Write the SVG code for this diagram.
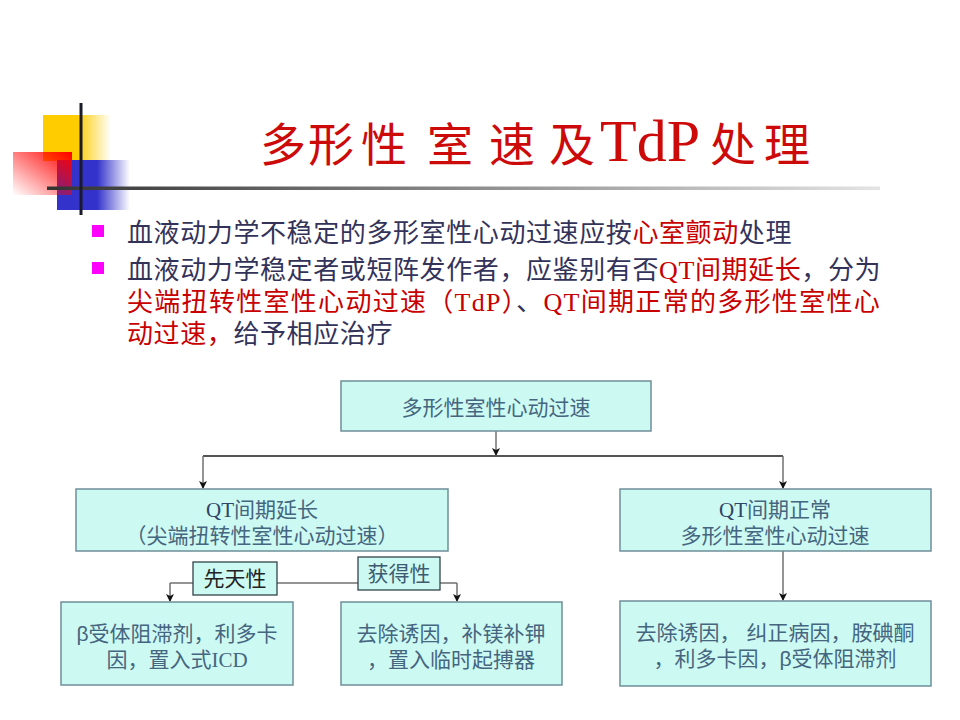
<svg xmlns="http://www.w3.org/2000/svg" width="960" height="720" viewBox="0 0 960 720">
<defs>
<style>
.cjk{font-family:"Liberation Sans","Noto Sans CJK SC",sans-serif;}
.ser{font-family:"Liberation Serif","Times New Roman",serif;}
.bt{font-size:26px;fill:#33335a;letter-spacing:0.6px;}
.ls3{letter-spacing:1.3px;}
.red{fill:#c80000;}
.dk{fill:#33335a;}
.box{fill:#ccfaf3;stroke:#6f8e98;stroke-width:1.5;}
.lbl{fill:#ccfaf3;stroke:#33444a;stroke-width:1.3;}
.bx{font-size:21px;fill:#46657f;text-anchor:middle;}
.qt{fill:#2f4466;}
.ln{stroke:#707070;stroke-width:1.5;fill:none;}
</style>
<marker id="ah" markerWidth="8" markerHeight="8" refX="7" refY="4" orient="auto" markerUnits="userSpaceOnUse">
<path d="M0,0 L8,4 L0,8 L2,4 Z" fill="#111"/>
</marker>
<linearGradient id="gy" x1="0" y1="0" x2="1" y2="0">
<stop offset="0" stop-color="#ffcc00"/><stop offset="0.5" stop-color="#ffcc00"/><stop offset="1" stop-color="#ffcc00" stop-opacity="0"/>
</linearGradient>
<linearGradient id="gb" x1="0" y1="0" x2="1" y2="0">
<stop offset="0" stop-color="#3333cc"/><stop offset="0.55" stop-color="#3333cc"/><stop offset="1" stop-color="#3333cc" stop-opacity="0"/>
</linearGradient>
<linearGradient id="gr" x1="1" y1="0" x2="0" y2="1">
<stop offset="0" stop-color="#ff0000"/><stop offset="1" stop-color="#ff0000" stop-opacity="0"/>
</linearGradient>
<linearGradient id="gl" x1="0" y1="0" x2="1" y2="0">
<stop offset="0" stop-color="#333"/><stop offset="0.2" stop-color="#555"/><stop offset="1" stop-color="#e4e4e4"/>
</linearGradient>
</defs>
<rect width="960" height="720" fill="#fff"/>

<g id="decor">
<rect x="43" y="115" width="68" height="46" fill="url(#gy)"/>
<rect x="57" y="160" width="73" height="50" fill="url(#gb)"/>
<rect x="13" y="152" width="59" height="43" fill="url(#gr)"/>
<rect x="47" y="186.5" width="833" height="3.5" fill="url(#gl)"/>
<rect x="79.5" y="103" width="3" height="112" fill="#1a1a2a"/>
</g>

<g id="title" fill="#cc0a0a">
<text class="cjk" font-size="46" y="161" text-anchor="middle"><tspan x="283">多</tspan><tspan x="331">形</tspan><tspan x="384">性</tspan><tspan x="450">室</tspan><tspan x="512">速</tspan><tspan x="572">及</tspan></text>
<text class="ser" font-size="60" x="600" y="161">TdP</text>
<text class="cjk" font-size="46" y="161" text-anchor="middle"><tspan x="733">处</tspan><tspan x="787">理</tspan></text>
</g>

<g id="bullets">
<rect x="92" y="225" width="12" height="12" fill="#ff00ff"/>
<rect x="92" y="262" width="12" height="12" fill="#ff00ff"/>
<text class="cjk bt" x="127" y="242"><tspan>血液动力学不稳定的多形室性心动过速应按</tspan><tspan class="red">心室颤动</tspan><tspan>处理</tspan></text>
<text class="cjk bt" x="127" y="279"><tspan>血液动力学稳定者或短阵发作者，应鉴别有否</tspan><tspan class="red ser">QT</tspan><tspan class="red">间期延长</tspan><tspan>，分为</tspan><tspan x="127" dy="32" class="red ls3">尖端扭转性室性心动过速（</tspan><tspan class="red ser ls3">TdP</tspan><tspan class="red ls3">）</tspan><tspan class="dk ls3">、</tspan><tspan class="red ser ls3">QT</tspan><tspan class="red ls3">间期正常的多形性室性心</tspan><tspan x="127" dy="32" class="red">动过速，</tspan><tspan>给予相应治疗</tspan></text>
</g>

<g id="connectors">
<line class="ln" x1="496" y1="431" x2="496" y2="455" marker-end="url(#ah)"/>
<line x1="203" y1="456" x2="783" y2="456" stroke="#555" stroke-width="1.8"/>
<line class="ln" x1="203" y1="456" x2="203" y2="488" marker-end="url(#ah)"/>
<line class="ln" x1="783" y1="456" x2="783" y2="488" marker-end="url(#ah)"/>
<line class="ln" x1="170" y1="583" x2="457" y2="583"/>
<line class="ln" x1="170" y1="583" x2="170" y2="601" marker-end="url(#ah)"/>
<line class="ln" x1="457" y1="583" x2="457" y2="601" marker-end="url(#ah)"/>
<line class="ln" x1="783" y1="551" x2="783" y2="600" marker-end="url(#ah)"/>
</g>

<g id="n-top">
<rect class="box" x="341" y="381" width="310" height="50"/>
<text class="cjk bx" x="496" y="415">多形性室性心动过速</text>
</g>

<g id="n-qtlong">
<rect class="box" x="76" y="489" width="372" height="62"/>
<text class="cjk bx" x="262" y="517"><tspan x="262" class="ser qt">QT</tspan><tspan>间期延长</tspan><tspan x="262" dy="26">（尖端扭转性室性心动过速）</tspan></text>
</g>

<g id="n-qtnorm">
<rect class="box" x="620" y="489" width="311" height="62"/>
<text class="cjk bx" x="775" y="517"><tspan x="775" class="ser qt">QT</tspan><tspan>间期正常</tspan><tspan x="775" dy="26">多形性室性心动过速</tspan></text>
</g>

<g id="l-congenital">
<rect class="lbl" x="193" y="562" width="84" height="33"/>
<text class="cjk" font-size="21" fill="#222" text-anchor="middle" x="235" y="586">先天性</text>
</g>

<g id="l-acquired">
<rect class="lbl" x="358" y="557" width="82" height="33"/>
<text class="cjk" font-size="21" fill="#3f5a70" text-anchor="middle" x="399" y="581">获得性</text>
</g>

<g id="n-b1">
<rect class="box" x="61" y="602" width="232" height="83"/>
<text class="cjk bx" x="177" y="641"><tspan x="177">β受体阻滞剂，利多卡</tspan><tspan x="177" dy="26">因，置入式</tspan><tspan class="ser">ICD</tspan></text>
</g>

<g id="n-b2">
<rect class="box" x="341" y="602" width="221" height="83"/>
<text class="cjk bx" x="451" y="641"><tspan x="451">去除诱因，补镁补钾</tspan><tspan x="451" dy="26">，置入临时起搏器</tspan></text>
</g>

<g id="n-b3">
<rect class="box" x="620" y="601" width="311" height="85"/>
<text class="cjk bx" x="775" y="640"><tspan x="775">去除诱因， 纠正病因，胺碘酮</tspan><tspan x="775" dy="26">，利多卡因，β受体阻滞剂</tspan></text>
</g>
</svg>
